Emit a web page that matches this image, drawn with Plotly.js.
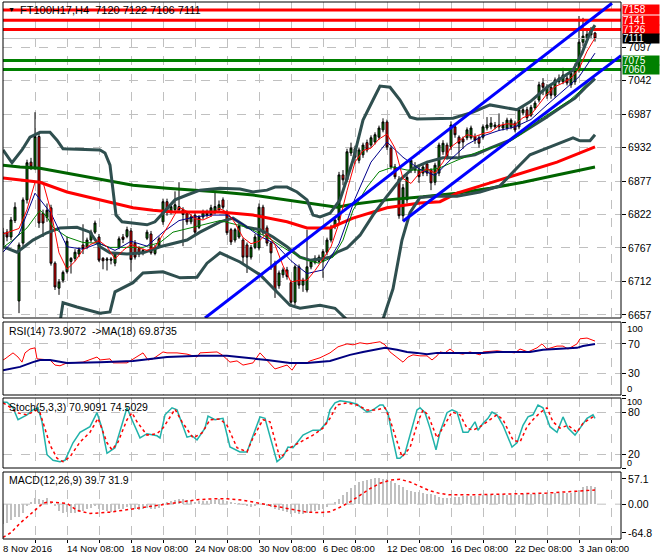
<!DOCTYPE html>
<html><head><meta charset="utf-8">
<script src="https://cdn.plot.ly/plotly-3.0.1.min.js"></script>
<style>html,body{margin:0;padding:0;background:#fff}#chart{width:660px;height:560px}</style>
</head><body><div id="chart"></div>
<script>
// ---------------- DATA ----------------
const dateLabels = ["8 Nov 2016","14 Nov 08:00","18 Nov 08:00","24 Nov 08:00","30 Nov 08:00","6 Dec 08:00","12 Dec 08:00","16 Dec 08:00","22 Dec 08:00","3 Jan 08:00"];
const dateLabelBars = [0,16,32,48,64,80,96,112,128,144];

const open = [6772,6793,6785,6812,6680,6775,6846,6908,6900,6950,
6824,6817,6833,6742,6701,6714,6728,6745,6750,6757,
6772,6768,6780,6793,6785,6750,6747,6749,6742,6768,
6785,6786,6795,6775,6766,6759,6783,6790,6758,6770,
6810,6843,6826,6830,6835,6830,6824,6810,6821,6801,
6818,6822,6822,6825,6830,6846,6825,6797,6780,6785,
6780,6772,6752,6768,6767,6834,6800,6775,6742,6705,
6723,6731,6710,6678,6736,6706,6698,6736,6743,6745,
6745,6760,6780,6802,6813,6887,6879,6923,6930,6911,
6920,6940,6936,6941,6949,6961,6974,6931,6900,6880,
6820,6846,6895,6895,6895,6890,6905,6895,6875,6890,
6925,6936,6933,6966,6949,6946,6948,6948,6950,6948,
6949,6964,6966,6966,6969,6964,6964,6966,6972,6966,
6989,6994,6985,6997,7010,7038,7018,7031,7018,7040,
7040,7046,7035,7040,7059,7105,7112,7117,7120];
const high = [6800,6798,6818,6842,6776,6850,6912,6915,6990,6955,
6830,6840,6838,6745,6716,6730,6785,6752,6765,6768,
6806,6784,6797,6812,6790,6752,6752,6752,6760,6786,
6790,6802,6800,6780,6770,6766,6797,6795,6772,6786,
6848,6848,6840,6860,6875,6834,6828,6822,6825,6821,
6830,6830,6838,6860,6845,6850,6830,6800,6800,6808,
6784,6776,6772,6790,6840,6838,6804,6778,6746,6730,
6735,6736,6714,6740,6740,6718,6797,6748,6755,6756,
6765,6784,6805,6817,6892,6895,6930,6940,6935,6932,
6940,6945,6952,6957,6968,6980,6978,6935,6905,6885,
6872,6888,6915,6908,6900,6904,6910,6898,6907,6940,
6944,6940,6975,6970,6952,6950,6965,6968,6955,6952,
6970,6982,6982,6974,6988,6974,6981,6980,6976,6998,
6999,6999,7002,7009,7040,7046,7036,7035,7047,7052,
7063,7050,7058,7070,7148,7145,7125,7130,7122];
const low = [6765,6778,6780,6808,6660,6770,6840,6895,6895,6800,
6785,6810,6738,6698,6690,6710,6725,6725,6745,6752,
6757,6765,6776,6790,6744,6732,6730,6740,6737,6765,
6775,6783,6728,6748,6752,6755,6780,6756,6755,6768,
6805,6820,6822,6826,6826,6770,6805,6806,6790,6798,
6814,6817,6818,6822,6826,6830,6788,6772,6776,6782,
6739,6726,6748,6765,6763,6788,6770,6731,6685,6700,
6718,6715,6673,6673,6700,6695,6694,6732,6740,6742,
6718,6755,6776,6798,6808,6870,6875,6918,6905,6906,
6915,6924,6932,6937,6945,6957,6928,6896,6880,6815,
6811,6840,6890,6890,6874,6885,6885,6862,6870,6885,
6920,6912,6928,6948,6916,6930,6944,6945,6938,6932,
6945,6960,6962,6962,6960,6960,6960,6962,6957,6962,
6985,6976,6982,6994,7006,7018,7012,7012,7014,7036,
7036,7034,7030,7035,7055,7098,7105,7110,7106];
const close = [6793,6785,6813,6834,6772,6846,6907,6900,6950,6808,
6808,6829,6742,6703,6711,6727,6778,6750,6760,6764,
6766,6780,6793,6808,6747,6746,6749,6747,6758,6782,
6781,6797,6748,6752,6757,6763,6793,6759,6768,6782,
6843,6825,6835,6838,6830,6822,6810,6818,6793,6817,
6826,6826,6833,6835,6838,6834,6792,6777,6797,6803,
6752,6752,6768,6785,6834,6792,6775,6759,6698,6726,
6731,6720,6678,6736,6706,6714,6736,6744,6750,6752,
6761,6780,6801,6813,6887,6879,6925,6931,6916,6928,
6936,6928,6948,6953,6964,6974,6933,6900,6884,6820,
6866,6883,6911,6900,6884,6900,6890,6874,6903,6936,
6939,6916,6969,6953,6939,6941,6961,6964,6944,6939,
6966,6969,6972,6969,6966,6969,6977,6977,6961,6994,
6994,6981,6998,7005,7035,7031,7031,7018,7043,7046,
7051,7038,7054,7059,7105,7115,7118,7125,7111];

// Bollinger bands (bar, price)
const bbUpBar = [0,2.25,4.75,6.75,9.25,11.75,13.5,15,24.25,25.5,26.75,27.5,28.25,29.75,36,38,40,43,46,49.25,54.25,59.25,62.5,66,68,71,73.5,76,77.5,79.25,81.75,84.25,87.5,90,92.5,94.25,96.75,99.25,101.75,103.5,112.5,117.5,121.75,126,128.5,131.75,136,140,142.5,144.75,146.75,148];
const bbUpVal = [6928,6907,6928,6949,6957,6957,6944,6930,6928,6923,6903,6862,6821,6810,6805,6810,6824,6846,6854,6862,6865,6864,6859,6862,6867,6867,6859,6846,6821,6818,6824,6846,6911,6977,7010,7033,7031,7010,6982,6979,6980,6990,7002,6997,6994,7007,7031,7048,7059,7087,7120,7133];
const bbMidBar = [0,3.5,7.5,11,14.25,18.5,21.75,24.25,26.75,31,35,39.25,46,49.25,54.25,57.5,61,64.25,67.5,71,74.25,76.75,79.25,81.75,83.5,86,89.25,92.5,96,99.25,102.5,106,110,113.5,118,121.75,126.75,131.75,135.5,139.25,143,145.5,148];
const bbMidVal = [6769,6760,6780,6792,6800,6801,6793,6769,6759,6757,6759,6769,6780,6793,6810,6816,6801,6797,6785,6769,6752,6747,6749,6752,6760,6767,6788,6821,6852,6879,6898,6908,6915,6915,6920,6931,6944,6964,6980,6997,7013,7030,7045];
const bbLowBar = [14.25,15,18.5,24.25,26.75,28,32.5,35,40,44.25,48.5,51,54.25,59.25,64.25,68,71.75,74.25,79.25,83,85.5,89,92,95,97.5,99.75,101.75,104.25,107.5,113.5,119.25,124.25,128,131.75,136,139.25,142.5,144.25,146.75,148];
const bbLowVal = [6645,6677,6670,6660,6662,6695,6710,6726,6728,6718,6719,6742,6759,6744,6723,6698,6673,6668,6673,6668,6652,6630,6625,6650,6700,6780,6825,6850,6852,6852,6859,6869,6895,6920,6931,6939,6948,6943,6943,6953];

// Slow moving averages (thick)
const maRedBar = [0,4.25,9.25,16,24.25,32.5,37.5,42.5,49.25,54.25,62.5,71,76,81.75,87.5,96,104.25,109.25,113.5,121.75,130,138.5,148];
const maRedVal = [6882,6879,6875,6859,6846,6833,6829,6826,6826,6826,6821,6810,6800,6800,6816,6833,6841,6843,6857,6874,6890,6908,6933];
const maGreenBar = [0,4.25,9.25,16,24.25,32.5,41,49.25,54.25,62.5,71,79.25,83.5,87.5,96,105,113.5,121.75,130,138.5,148];
const maGreenVal = [6903,6900,6898,6890,6879,6870,6865,6862,6859,6854,6846,6838,6834,6839,6846,6851,6857,6865,6875,6887,6900];

// Fast moving averages (thin)
const fastRedBar = [0,2,4,6,8,10,12,14,16,18,20,22,24,26,28,30,32,34,36,38,40,42,44,46,48,50,52,54,56,58,60,62,64,66,68,70,72,74,76,78,80,82,84,86,88,90,92,94,96,98,100,102,104,106,108,110,112,114,116,118,120,122,124,126,128,130,132,134,136,138,140,142,144,146,148];
const fastRedVal = [6790,6795,6799,6830,6875,6875,6827,6759,6732,6745,6764,6773,6779,6769,6749,6763,6773,6767,6763,6768,6789,6811,6834,6827,6815,6813,6819,6832,6826,6808,6784,6774,6778,6791,6772,6738,6711,6714,6714,6730,6749,6769,6808,6861,6908,6927,6931,6946,6954,6931,6881,6873,6889,6897,6890,6908,6933,6943,6953,6950,6955,6958,6968,6971,6970,6981,6986,7003,7020,7032,7038,7046,7061,7090,7112];
const fastBlueBar = [0,4,8,12,16,20,24,28,32,36,40,44,48,52,56,60,64,68,72,76,80,84,88,92,96,100,104,108,112,116,120,124,128,132,136,140,144,148];
const fastBlueVal = [6760,6790,6857,6824,6769,6765,6775,6763,6778,6770,6793,6812,6818,6821,6821,6806,6787,6774,6746,6725,6731,6774,6848,6908,6941,6916,6897,6886,6913,6937,6951,6960,6966,6978,7002,7025,7048,7087];
const fastGreenBar = [0,2.5,6,7.5,9.25,11,12.5,16,20,23.5,26.75,31,35,39.25,42.5,47.5,54.25,61,66,71,76,79,82.5,85,87.5,91,94,97.5,101,106,109,113.5,120,126,130,134,138.5,141.75,144,146.75,148];
const fastGreenVal = [6768,6780,6800,6813,6829,6818,6801,6785,6776,6775,6768,6768,6768,6776,6793,6801,6812,6801,6785,6764,6747,6742,6752,6780,6829,6867,6892,6900,6895,6895,6898,6911,6928,6939,6956,6977,6997,7010,7023,7043,7050];

// Trend channel (bar, price)
const chanUpBar = [50.5,152.25];
const chanUpVal = [6652,7169];
const chanLowBar = [100,154.5];
const chanLowVal = [6811,7083];

// Horizontal levels
const levelsRed = [7158,7141,7126];
const levelsGreen = [7075,7060];
const lastPrice = 7111;
const header = "FT100H17,H4  7120 7122 7106 7111";
const priceTicks = [6657,6712,6767,6822,6877,6932,6987,7042,7097];

// RSI(14) and MA(18)
const rsiBar = [0,0.5,2.5,3.75,4.75,5.5,6.75,8,8.5,11.75,13,14.25,16,20,23.5,24.25,26.75,27.5,31,35,36.25,37.5,40,41,43.5,46,48.5,49.25,53.5,54.75,56.75,58.5,60,62.5,64.25,66,68,71,72.25,73.5,76,76.75,79.25,81.75,83.75,86,87.5,89.25,91,94.25,95.5,96.75,98.5,100,101.25,102.5,104.25,106,107.25,108.5,109.25,110.5,111.75,113,115,116.75,119.25,120,123.5,126.75,128,129.25,131.25,133.5,134.75,136,138.5,140,141.25,143.5,144.25,146,147.5,148];
const rsiVal = [48,49.5,57.7,52,45,57.7,63,64.6,49.5,48,41,40,44,45,52,48,49.5,44,44,57.7,48,49.5,59,57.7,57.7,56,52,57.7,59,55,45,46.7,41,44,57.7,48,35.7,41,34,44,44,46.7,51,57.7,66,70,68.7,71.5,70,72.9,68.7,59,52,45,52,55,53.6,53.6,48,53.6,59,57.7,63,57.7,56,59,55,59,60.5,59,57.7,63,59,64.6,70,63,67,67,63,70,77,78,75.6,73.9072];
const rsiMaBar = [0,4.25,7.5,9.25,11.75,16,24.25,32.5,41,49.25,56,59.25,62.5,66,71.75,76,81.75,86.75,90,93.5,95.5,98.5,101,103.5,106,108.5,115,120,123.5,128.5,131.75,135,138.5,143.5,145,148];
const rsiMaVal = [34,38.5,45,48,48,44,45,46.7,52,53.6,53.6,52,49.5,48,44,44,46.7,55,59,63,64.6,61.9,59,57.7,56,57.7,57.7,57.7,59,59,59,61.9,63,64.6,67,69.8735];

// Stochastic(5,3,3)
const stKBar = [0,1,2.5,3.75,6,7.5,8.75,9.75,11,12.5,14.25,15.5,17.5,19.25,21.75,23.5,24.75,26,28,30,31,32.25,34.25,36,38.5,39.25,40.5,42.25,43.5,46,47.25,48.5,50.5,51.25,53,55,56.75,59.25,61,64.25,65.5,68.5,70,71.25,72.5,73.5,75,77.5,79.25,81,81.75,83,84.25,86.75,88.5,91,92.5,94.25,95,96.25,97.25,98.5,99.25,100.5,102.25,103.5,104.25,105.5,106.75,108.25,109.25,111,112.25,113.5,115,116.25,118,118.75,120,121.25,122.25,123.5,125,127.25,128.5,130,131.25,132.5,133.75,135,136.75,138.5,140,141.25,143,144.25,146,147.5,148];
const stKVal = [94,94,86,69,76,83,86,66,19,11,9,11,36,51,59,79,57,21,29,66,86,69,43,49,46,43,76,86,83,44,46,40,57,74,69,71,30,23,23,73,71,9,16,30,29,36,47,54,54,66,83,93,96,94,91,80,83,90,90,79,47,14,14,21,57,83,86,79,57,26,51,79,83,80,51,51,66,54,64,71,80,76,61,30,36,61,73,76,90,86,59,51,73,57,47,57,71,76,70.9091];
const stDBar = [0,1,3.5,6,8.5,9.25,11.75,13.5,15,16.75,19.25,21.75,23.75,26,27.25,28.75,31,32.25,33.5,36,38.5,40,43,44.75,47.5,49.75,51.75,54.25,56,58.5,61,62.5,65,66.75,68.5,69.25,71.75,74.25,77.5,80,81.75,83.5,86,88.5,91,93.5,95.5,96.75,98.5,99.75,101.75,103.75,105,106.25,108.5,110,112.25,114.25,116,117.5,119.25,121,123.5,125,127.5,129.25,131,132.5,134.25,136,137.5,139.25,141.25,143.5,145,147.5,148];
const stDVal = [93,90,79,76,83,79,33,14,9,16,37,51,71,36,26,37,69,79,66,47,49,57,84,66,43,50,69,70,61,29,23,43,69,66,29,14,29,37,47,57,71,90,93,90,83,83,86,69,37,16,29,66,83,76,43,57,80,76,57,54,59,66,76,69,40,37,59,69,79,86,66,57,61,51,64,73,74.5029];

// MACD(12,26,9): main per bar, signal sampled
const macdMain = [-45,-42,-35,-30,-28,-20,-5,5,15,12,
10,14,5,-5,-15,-20,-18,-20,-20,-18,
-16,-12,-8,-5,-10,-14,-16,-17,-16,-12,
-10,-6,-10,-12,-13,-12,-8,-10,-10,-8,
2,5,8,10,11,11,10,9,6,7,
8,8,9,10,11,10,7,4,3,3,
-2,-5,-6,-5,0,-1,-3,-6,-12,-14,
-15,-17,-22,-21,-22,-22,-20,-18,-16,-13,
-10,-6,0,5,12,20,28,36,43,49,
53,55,57,58,58,57,56,53,48,43,
38,33,30,28,27,26,24,22,20,17,
15,14,14,16,17,18,19,19,19,19,
20,20,21,21,21,21,21,21,21,21,
22,22,22,22,23,24,24,24,25,25,
26,26,26,27,33,38,41,42,39.7];
const macdSigBar = [0,2,4.25,7.5,10,11.25,16,18.5,21.75,26.75,32.5,39.25,44.25,48.5,52.5,56,60,63.5,67.5,71.75,76,79.25,81.75,84.25,86.75,89.25,91.75,94.25,96.75,99.25,101.75,104.25,106.75,109.25,111.75,116.75,120,125,131.75,136,140,144.25,148];
const macdSigVal = [-75,-64,-43,-18,2,5,2,-14,-21,-18,-11,-2,5,10,12,12,9,3,-5,-12,-18,-19,-17,-7,5,20,35,47,54,56,50,40,30,24,21,21,22,23,24,25,27,29,31.9];

// ---------------- CHART ----------------
const bars = close.map((_, i) => i);
const W = 660, H = 560, ML = 3, MR = 39, MT = 2, MB = 21;
const PH = H - MT - MB, PW = W - ML - MR;
const fy = p => 1 - (p - MT) / PH;   // pixel row -> paper fraction
const fx = p => (p - ML) / PW;
const XR = [0, 154.5];
const FONT = "Liberation Sans, Arial, sans-serif";
const SLATE = "#2F4F4F";

function line(xs, ys, color, width, yaxis, dash) {
  return {type: "scatter", mode: "lines", x: xs, y: ys, xaxis: "x", yaxis: yaxis,
          line: {color: color, width: width, dash: dash || "solid"}, hoverinfo: "skip", showlegend: false};
}

const traces = [];
traces.push({type: "candlestick", x: bars, open: open, high: high, low: low, close: close,
  xaxis: "x", yaxis: "y", whiskerwidth: 0,
  increasing: {line: {color: "#000000", width: 1}, fillcolor: "#008000"},
  decreasing: {line: {color: "#000000", width: 1}, fillcolor: "#FF0000"},
  hoverinfo: "skip", showlegend: false});
traces.push(line([XR[0], XR[1]], [lastPrice, lastPrice], "#C0C0C0", 1, "y"));
levelsRed.forEach(v => traces.push(line([XR[0], XR[1]], [v, v], "#FF0000", 3, "y")));
levelsGreen.forEach(v => traces.push(line([XR[0], XR[1]], [v, v], "#008000", 3, "y")));
traces.push(line(maGreenBar, maGreenVal, "#006400", 3, "y"));
traces.push(line(maRedBar, maRedVal, "#FF0000", 3, "y"));
traces.push(line(bbUpBar, bbUpVal, SLATE, 3, "y"));
traces.push(line(bbMidBar, bbMidVal, SLATE, 3, "y"));
traces.push(line(bbLowBar, bbLowVal, SLATE, 3, "y"));
traces.push(line(fastGreenBar, fastGreenVal, "#008000", 1, "y"));
traces.push(line(fastBlueBar, fastBlueVal, "#00008B", 1, "y"));
traces.push(line(fastRedBar, fastRedVal, "#FF0000", 1, "y"));
traces.push(line(chanUpBar, chanUpVal, "#0000FF", 3, "y"));
traces.push(line(chanLowBar, chanLowVal, "#0000FF", 3, "y"));
// RSI
traces.push(line(rsiBar, rsiVal, "#FF0000", 1, "y2"));
traces.push(line(rsiMaBar, rsiMaVal, "#000080", 2, "y2"));
// Stochastic
traces.push(line(stKBar, stKVal, "#20B2AA", 1.5, "y3"));
traces.push(line(stDBar, stDVal, "#FF0000", 1.5, "y3", "dot"));
// MACD
traces.push({type: "bar", x: bars, y: macdMain, xaxis: "x", yaxis: "y4", width: 0.3,
  marker: {color: "#C0C0C0", line: {width: 0}}, hoverinfo: "skip", showlegend: false});
traces.push(line(macdSigBar, macdSigVal, "#FF0000", 1.5, "y4", "dot"));

const gridTicks = [];
for (let b = 8; b < 155; b += 8) gridTicks.push(b);

const yBase = {side: "right", anchor: "x", showgrid: true, gridcolor: "#C0C0C0", griddash: "dash",
  gridwidth: 1, zeroline: false, ticks: "outside", ticklen: 4, tickcolor: "#000", tickwidth: 1,
  showline: false, tickfont: {size: 10.5, color: "#000", family: FONT}, fixedrange: true};

const dom = {
  main: [fy(318), 1],
  rsi: [fy(395), fy(322)],
  st: [fy(468), fy(398)],
  macd: [0, fy(472)]
};

const layout = {
  width: W, height: H,
  margin: {l: ML, r: MR, t: MT, b: MB, pad: 0},
  paper_bgcolor: "#FFFFFF", plot_bgcolor: "#FFFFFF",
  font: {family: FONT, size: 10.5, color: "#000"},
  showlegend: false, hovermode: false, bargap: 0,
  xaxis: {domain: [0, 1], anchor: "y4", range: XR, tickvals: gridTicks, showticklabels: false,
    showgrid: true, gridcolor: "#C0C0C0", griddash: "dash", gridwidth: 1, zeroline: false,
    ticks: "outside", ticklen: 3, tickcolor: "#000", tickwidth: 1,
    rangeslider: {visible: false}, fixedrange: true},
  yaxis: Object.assign({}, yBase, {domain: dom.main, range: [6652, 7171], tickvals: priceTicks,
    ticktext: priceTicks.map(String)}),
  yaxis2: Object.assign({}, yBase, {domain: dom.rsi, range: [0, 100], tickvals: [0, 30, 70, 100],
    ticktext: ["", "30", "70", ""]}),
  yaxis3: Object.assign({}, yBase, {domain: dom.st, range: [0, 100], tickvals: [0, 20, 80, 100],
    ticktext: ["", "20", "80", ""]}),
  yaxis4: Object.assign({}, yBase, {domain: dom.macd, range: [-78.5, 72.5], showgrid: false,
    tickvals: [-64.8, 0, 57.1], ticktext: ["-64.8", "0.00", "57.1"]}),
  shapes: [],
  annotations: []
};

// zero line in MACD
layout.shapes.push({type: "line", xref: "paper", x0: 0, x1: 1, yref: "y4", y0: 0, y1: 0,
  line: {color: "#C0C0C0", width: 1, dash: "dash"}, layer: "below"});
// panel borders
[dom.main, dom.rsi, dom.st, dom.macd].forEach(d => {
  layout.shapes.push({type: "rect", xref: "paper", yref: "paper", x0: 0, x1: 1, y0: d[0], y1: d[1],
    line: {color: "#000", width: 1}, fillcolor: "rgba(0,0,0,0)", layer: "above"});
});

const ann = layout.annotations;
function txt(x, y, text, opts) {
  ann.push(Object.assign({xref: "paper", yref: "paper", x: fx(x), y: fy(y), text: text,
    showarrow: false, xanchor: "left", yanchor: "middle",
    font: {family: FONT, size: 10.5, color: "#000"}}, opts || {}));
}
// header
txt(6, 10, "\u25BC", {font: {family: FONT, size: 7, color: "#000"}});
txt(18, 10, header.replace(/  /g, " \u00a0"), {font: {family: FONT, size: 11, color: "#000"}});
// panel labels
txt(7, 331, "RSI(14) 73.9072 \u00a0->MA(18) 69.8735");
txt(7, 407, "Stoch(5,3,3) 70.9091 74.5029");
txt(7, 480, "MACD(12,26,9) 39.7 31.9");
// inner 0/100 labels
txt(625, 328, "100", {font: {family: FONT, size: 9.5, color: "#000"}});
txt(625, 388, "0", {font: {family: FONT, size: 9.5, color: "#000"}});
txt(625, 402, "100", {font: {family: FONT, size: 9, color: "#000"}});
txt(625, 463, "0", {font: {family: FONT, size: 9, color: "#000"}});

// price marker boxes on right scale
function box(v, bg) {
  ann.push({xref: "paper", yref: "y", x: 1, y: v, xanchor: "left", yanchor: "middle", text: String(v),
    showarrow: false, bgcolor: bg, width: 36, height: 9, align: "left", borderpad: 0, xshift: 1,
    font: {family: FONT, size: 10, color: "#FFFFFF"}});
}
box(levelsRed[2], "#FF0000");
box(levelsRed[1], "#FF0000");
box(levelsRed[0], "#FF0000");
box(lastPrice, "#000000");
levelsGreen.forEach(v => box(v, "#008000"));

// date labels
dateLabels.forEach((t, k) => {
  ann.push({xref: "x", yref: "paper", x: dateLabelBars[k], y: 0, xanchor: "left", yanchor: "top",
    yshift: -2, xshift: -2, text: t, showarrow: false, font: {family: FONT, size: 9.6, color: "#000"}});
});

Plotly.newPlot("chart", traces, layout, {staticPlot: true, displayModeBar: false});
</script>
</body></html>
